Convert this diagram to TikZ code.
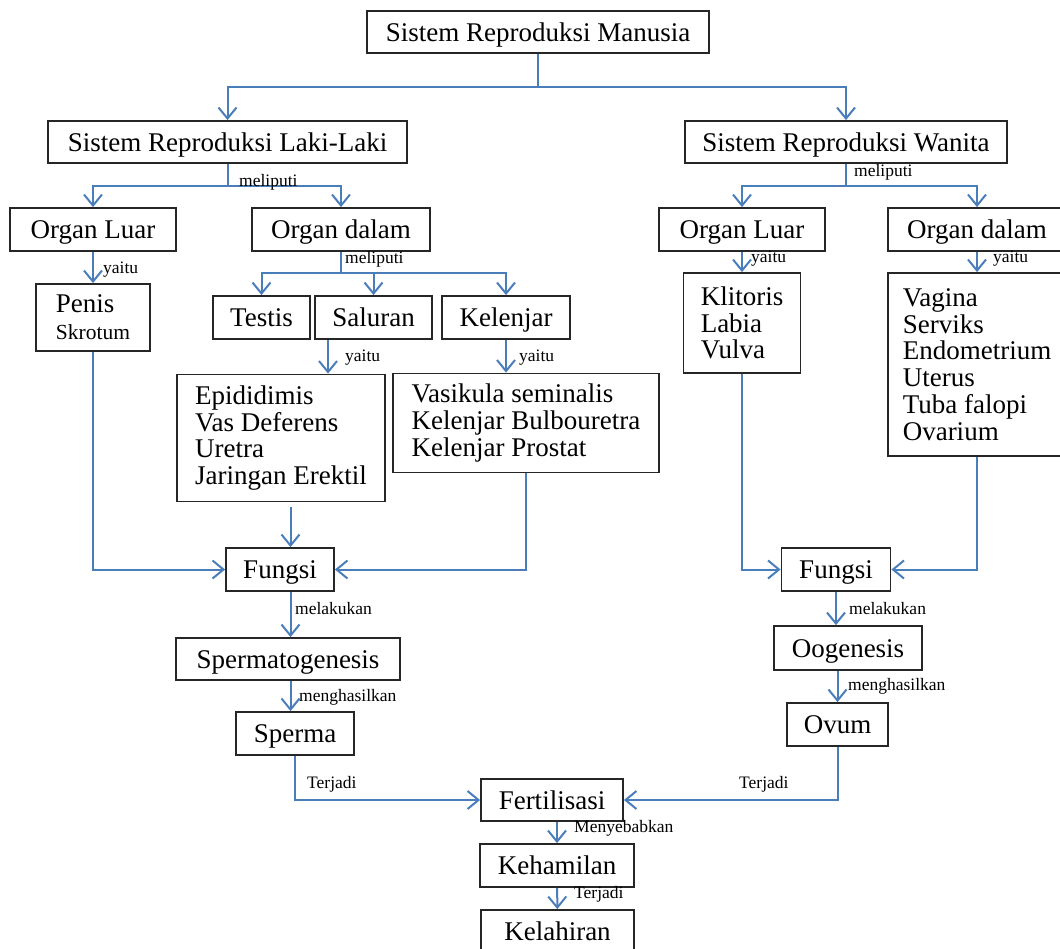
\documentclass[tikz,border=0pt]{standalone}
\usepackage{fontspec}
\setmainfont{Liberation Serif}
\usetikzlibrary{arrows.meta}
\definecolor{LinkBlue}{HTML}{4A7EBB}
\definecolor{BoxLine}{HTML}{262626}
\tikzset{
  frame/.style={draw=BoxLine, line width=1.8pt, fill=white, inner sep=0pt, font=\fontsize{27}{26.8}\selectfont},
  box/.style={frame, align=center, text height=24.5pt, text depth=6pt},
  listbox/.style={frame, align=left},
  link/.style={-{Straight Barb[length=11pt,width=18pt]}, line width=2pt, draw=LinkBlue},
  plain/.style={line width=2pt, draw=LinkBlue},
  lbl/.style={anchor=base west, inner sep=0pt, font=\fontsize{17.5}{18}\selectfont}
}

\begin{document}
\begin{tikzpicture}[x=1pt, y=-1pt]
\useasboundingbox (0,0) rectangle (1060,948);
\node[box, minimum width=342, minimum height=42] (top) at (538,32) {Sistem Reproduksi Manusia};
\node[box, minimum width=359, minimum height=42] (male) at (227.5,142) {Sistem Reproduksi Laki-Laki};
\node[box, minimum width=322, minimum height=42] (female) at (846,142) {Sistem Reproduksi Wanita};
\node[box, minimum width=166, minimum height=43] (olL) at (93,229.5) {Organ Luar};
\node[box, minimum width=178, minimum height=43] (odL) at (341,229.5) {Organ dalam};
\node[box, minimum width=166, minimum height=43] (olR) at (742,229.5) {Organ Luar};
\node[box, minimum width=178, minimum height=43] (odR) at (977,229.5) {Organ dalam};
\node[listbox, minimum width=114, minimum height=67] (penis) at (93,317.5) {Penis\\{\fontsize{21.5}{25}\selectfont Skrotum}};
\node[box, minimum width=97, minimum height=43] (testis) at (261.5,317.5) {Testis};
\node[box, minimum width=117, minimum height=43] (saluran) at (373.5,317.5) {Saluran};
\node[box, minimum width=128, minimum height=43] (kelenjar) at (506,317.5) {Kelenjar};
\node[listbox, minimum width=208, minimum height=127] (salList) at (281,438) {Epididimis\\Vas Deferens\\Uretra\\Jaringan Erektil};
\node[listbox, minimum width=266, minimum height=99] (kelList) at (526,423) {Vasikula seminalis\\Kelenjar Bulbouretra\\Kelenjar Prostat};
\node[listbox, minimum width=117, minimum height=100] (klit) at (742,323) {Klitoris\\Labia\\Vulva};
\node[listbox, minimum width=178, minimum height=183] (vag) at (977,364.5) {Vagina\\Serviks\\Endometrium\\Uterus\\Tuba falopi\\Ovarium};
\node[box, minimum width=108, minimum height=43] (fL) at (280,569.5) {Fungsi};
\node[box, minimum width=109, minimum height=43] (fR) at (836,569.5) {Fungsi};
\node[box, minimum width=224, minimum height=42] (sperm8) at (288,659) {Spermatogenesis};
\node[box, minimum width=118, minimum height=43] (sperma) at (295,733.5) {Sperma};
\node[box, minimum width=148, minimum height=44] (oog) at (848,648) {Oogenesis};
\node[box, minimum width=101, minimum height=43] (ovum) at (837.5,724.5) {Ovum};
\node[box, minimum width=142, minimum height=42] (fert) at (552,800) {Fertilisasi};
\node[box, minimum width=154, minimum height=43] (hamil) at (557,865.5) {Kehamilan};
\node[box, minimum width=153, minimum height=43] (lahir) at (557.5,931.5) {Kelahiran};

\coordinate (j0) at (538,87);
\coordinate (jm) at (227.5,186);
\coordinate (jf) at (846,186);
\coordinate (jd) at (341,273);
\coordinate (c1) at (290.5,0);
\coordinate (c2) at (328,0);

\draw[plain] (top) -- (j0);
\draw[link] (j0) -| (male);
\draw[link] (j0) -| (female);
\draw[plain] (male) -- (jm);
\draw[link] (jm) -| (olL);
\draw[link] (jm) -| (odL);
\draw[plain] (female) -- (jf);
\draw[link] (jf) -| (olR);
\draw[link] (jf) -| (odR);
\draw[link] (olL) -- (penis);
\draw[plain] (odL) -- (jd);
\draw[link] (jd) -| (testis);
\draw[link] (jd) -| (saluran);
\draw[link] (jd) -| (kelenjar);
\draw[link] (olR) -- (klit);
\draw[link] (odR) -- (vag);
\draw[link] (saluran.south -| c2) -- (salList.north -| c2);
\draw[link] (kelenjar.south) -- (kelenjar.south |- kelList.north);
\draw[link, shorten <=5pt] (salList.south -| c1) -- (fL.north -| c1);
\draw[link] (penis) |- (fL);
\draw[link] (kelList) |- (fL);
\draw[link] (klit) |- (fR);
\draw[link] (vag) |- (fR);
\draw[link] (fL.south -| c1) -- (sperm8.north -| c1);
\draw[link] (sperm8.south -| c1) -- (sperma.north -| c1);
\draw[link] (sperma) |- (fert);
\draw[link] (fR.south) -- (fR.south |- oog.north);
\draw[link] (oog.south -| ovum) -- (ovum);
\draw[link] (ovum) |- (fert);
\draw[link] (fert.south -| hamil) -- (hamil);
\draw[link] (hamil) -- (lahir);

\node[lbl] (m1) at (239,186) {meliputi};
\node[lbl] (m2) at (854,176) {meliputi};
\node[lbl] (y1) at (103,273) {yaitu};
\node[lbl] (m3) at (345,263) {meliputi};
\node[lbl] (y2) at (751,262) {yaitu};
\node[lbl] (y3) at (993,262) {yaitu};
\node[lbl] (y4) at (345,361) {yaitu};
\node[lbl] (y5) at (519,361) {yaitu};
\node[lbl] (k1) at (295,614) {melakukan};
\node[lbl] (k2) at (849,614) {melakukan};
\node[lbl] (h1) at (299,701) {menghasilkan};
\node[lbl] (h2) at (848,690) {menghasilkan};
\node[lbl] (t1) at (307,788) {Terjadi};
\node[lbl] (t2) at (739,788) {Terjadi};
\node[lbl] (s1) at (574,832) {Menyebabkan};
\node[lbl] (t3) at (574,898) {Terjadi};
\end{tikzpicture}
\end{document}
